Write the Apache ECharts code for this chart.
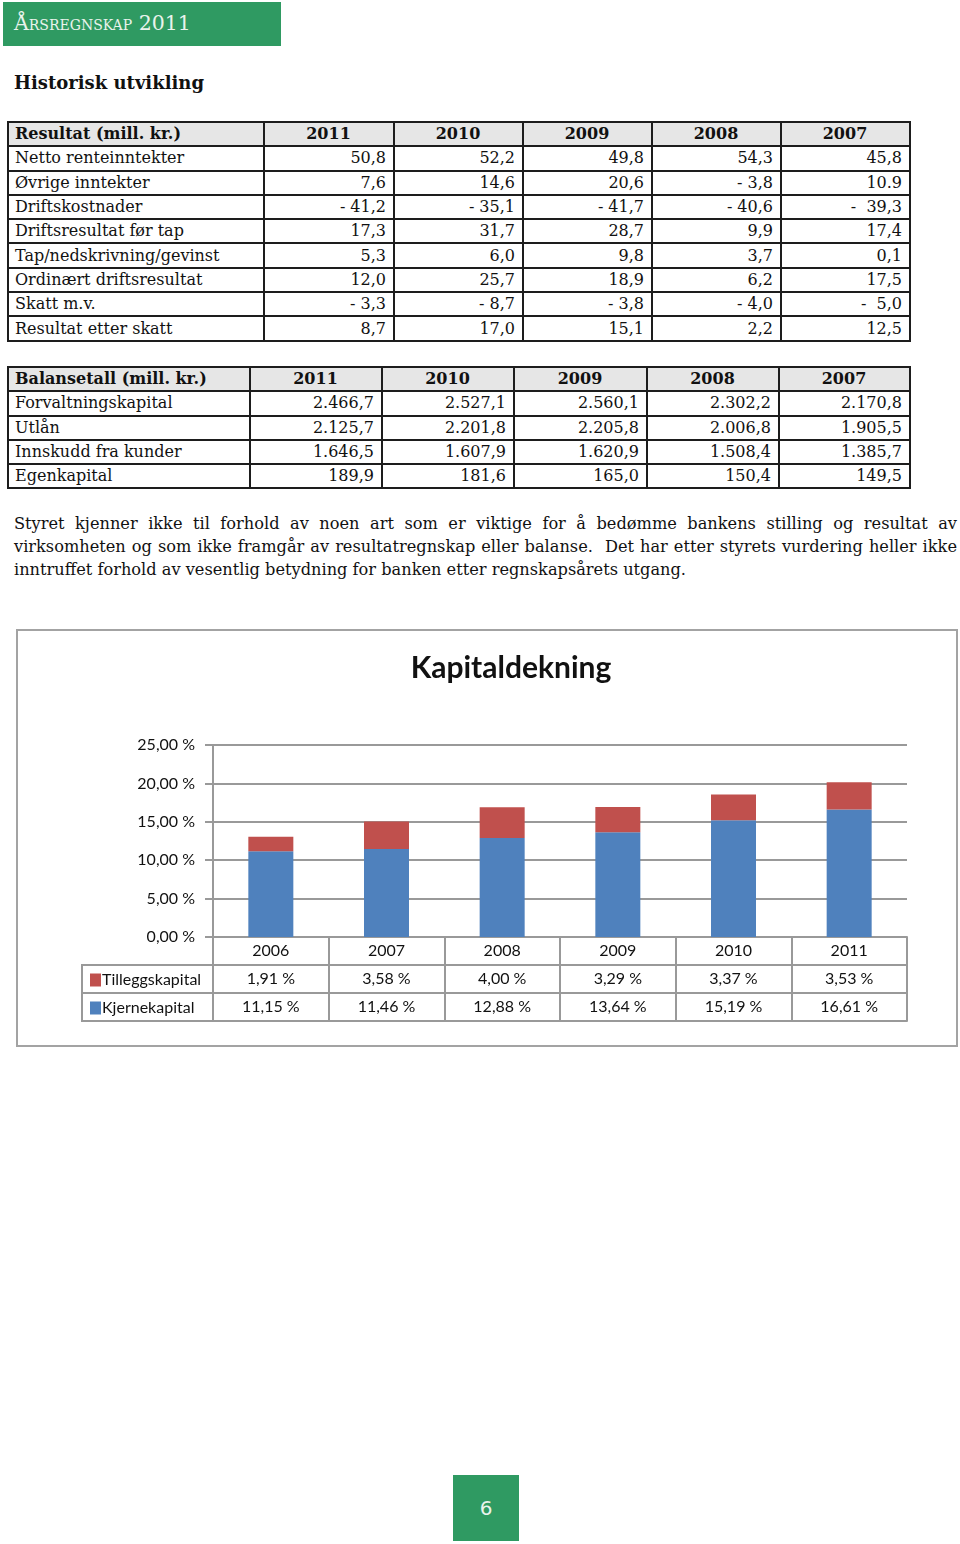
<!DOCTYPE html>
<html>
<head>
<meta charset="utf-8">
<script src="https://cdn.jsdelivr.net/npm/echarts@6.0.0/dist/echarts.min.js"></script>
<style>
  body { margin: 0; background: #fff; }
  #page { position: relative; width: 960px; height: 1544px; font-family: "DejaVu Serif", serif; color: #111; }
  .band { position: absolute; left: 3px; top: 2px; width: 278px; height: 44px; background: #2f9a62; }
  .band span { position: absolute; left: 11px; top: 9px; font-size: 20.5px; color: #e9f3ec; font-variant: small-caps; white-space: nowrap; }
  h1 { position: absolute; left: 14px; top: 70px; margin: 0; font-size: 18px; line-height: 26px; font-weight: bold; }
  table { position: absolute; left: 7px; width: 902px; border-collapse: collapse; table-layout: fixed; font-size: 16px; }
  th, td { border: 2px solid #1d1d1d; padding: 0 7px 0 6px; height: 22.3px; line-height: 20px; white-space: pre; overflow: hidden; }
  th { background: #e6e6e6; font-weight: bold; text-align: center; }
  th:first-child { text-align: left; }
  td { text-align: right; }
  td:first-child { text-align: left; }
  .para { position: absolute; left: 14px; top: 512px; width: 943px; font-size: 16.2px; line-height: 23px; }
  .para div { white-space: nowrap; }
  .para .j { text-align: justify; text-align-last: justify; white-space: normal; }
  #box { position: absolute; left: 16px; top: 629px; width: 942px; height: 418px; border: 2px solid #a3a3a3; box-sizing: border-box; }
  #chart { width: 938px; height: 414px; }
  .pageno { position: absolute; left: 453px; top: 1475px; width: 66px; height: 66px; background: #2f9a62; color: #e9f3ec; font-family: "DejaVu Sans", sans-serif; font-size: 20px; line-height: 66px; text-align: center; }
</style>
</head>
<body>
<div id="page">
  <div class="band"><span>Årsregnskap 2011</span></div>
  <h1>Historisk utvikling</h1>
  <table id="resultat" style="top:121px"></table>
  <table id="balanse" style="top:366px"></table>
  <div class="para">
    <div class="j">Styret kjenner ikke til forhold av noen art som er viktige for å bedømme bankens stilling og resultat av</div>
    <div class="j">virksomheten og som ikke framgår av resultatregnskap eller balanse.&nbsp; Det har etter styrets vurdering heller ikke</div>
    <div>inntruffet forhold av vesentlig betydning for banken etter regnskapsårets utgang.</div>
  </div>
  <div id="box"><div id="chart"></div></div>
  <div class="pageno">6</div>
</div>
<script>
// tabell 1: resultat
const resultatYears = ["2011", "2010", "2009", "2008", "2007"];
const resultatLabels = ["Netto renteinntekter", "Øvrige inntekter", "Driftskostnader", "Driftsresultat før tap",
  "Tap/nedskrivning/gevinst", "Ordinært driftsresultat", "Skatt m.v.", "Resultat etter skatt"];
const nettoRente = ["50,8", "52,2", "49,8", "54,3", "45,8"];
const ovrigeInntekter = ["7,6", "14,6", "20,6", "- 3,8", "10.9"];
const driftskostnader = ["- 41,2", "- 35,1", "- 41,7", "- 40,6", "-  39,3"];
const driftsresultat = ["17,3", "31,7", "28,7", "9,9", "17,4"];
const tapGevinst = ["5,3", "6,0", "9,8", "3,7", "0,1"];
const ordinaert = ["12,0", "25,7", "18,9", "6,2", "17,5"];
const skatt = ["- 3,3", "- 8,7", "- 3,8", "- 4,0", "-  5,0"];
const resultatEtterSkatt = ["8,7", "17,0", "15,1", "2,2", "12,5"];

// tabell 2: balanse
const balanseLabels = ["Forvaltningskapital", "Utlån", "Innskudd fra kunder", "Egenkapital"];
const forvaltning = ["2.466,7", "2.527,1", "2.560,1", "2.302,2", "2.170,8"];
const utlan = ["2.125,7", "2.201,8", "2.205,8", "2.006,8", "1.905,5"];
const innskudd = ["1.646,5", "1.607,9", "1.620,9", "1.508,4", "1.385,7"];
const egenkapital = ["189,9", "181,6", "165,0", "150,4", "149,5"];

// kapitaldekning
const years = ["2006", "2007", "2008", "2009", "2010", "2011"];
const tilleggskapital = [1.91, 3.58, 4.00, 3.29, 3.37, 3.53];
const kjernekapital = [11.15, 11.46, 12.88, 13.64, 15.19, 16.61];

function buildTable(id, title, widths, labels, rows) {
  const t = document.getElementById(id);
  let html = "<colgroup>" + widths.map((w) => `<col style="width:${w}px">`).join("") + "</colgroup>";
  html += "<tr><th>" + title + "</th>" + resultatYears.map((y) => `<th>${y}</th>`).join("") + "</tr>";
  labels.forEach((l, i) => {
    html += "<tr><td>" + l + "</td>" + rows[i].map((v) => `<td>${v}</td>`).join("") + "</tr>";
  });
  t.innerHTML = html;
}

buildTable("resultat", "Resultat (mill. kr.)", [256, 130, 129, 129, 129, 129], resultatLabels,
  [nettoRente, ovrigeInntekter, driftskostnader, driftsresultat, tapGevinst, ordinaert, skatt, resultatEtterSkatt]);
buildTable("balanse", "Balansetall (mill. kr.)", [242, 132, 132, 133, 132, 131], balanseLabels,
  [forvaltning, utlan, innskudd, egenkapital]);

const pct = (v) => v.toFixed(2).replace(".", ",") + " %";
const gray = "#999999";
const txt = "#111";

const myChart = echarts.init(document.getElementById("chart"));

const tableAxis = (offset, values) => ({
  type: "category",
  position: "bottom",
  offset: offset,
  data: years,
  axisLine: { show: true, onZero: false, lineStyle: { color: gray, width: 2 } },
  axisTick: { show: values !== null, length: 28, interval: 0, lineStyle: { color: gray, width: 2 } },
  axisLabel: {
    show: values !== null,
    interval: 0,
    margin: 6,
    fontFamily: "Lato",
    fontSize: 16,
    color: txt,
    formatter: (v, i) => (values === years ? v : values ? pct(values[i]) : ""),
  },
});

const option = {
  animation: false,
  title: {
    text: "Kapitaldekning",
    left: 493,
    top: 22,
    padding: 0,
    textAlign: "center",
    textStyle: { fontFamily: "Lato", fontWeight: "bold", fontSize: 30, color: txt },
  },
  legend: {
    orient: "vertical",
    left: 72,
    top: 341,
    padding: 0,
    itemWidth: 11,
    itemHeight: 13,
    itemGap: 12,
    icon: "rect",
    data: ["Tilleggskapital", "Kjernekapital"],
    textStyle: { fontFamily: "Lato", fontSize: 16, lineHeight: 16, color: txt, padding: [0, 0, 0, -4] },
  },
  grid: { left: 195, right: 49, top: 114, bottom: 108, containLabel: false, outerBoundsMode: "none" },
  yAxis: {
    type: "value",
    min: 0,
    max: 25,
    interval: 5,
    axisLine: { show: true, lineStyle: { color: gray, width: 2 } },
    axisTick: { show: true, length: 8, lineStyle: { color: gray, width: 2 } },
    splitLine: { lineStyle: { color: gray, width: 2 } },
    axisLabel: { formatter: pct, margin: 18, fontFamily: "Lato", fontSize: 16, color: txt },
  },
  xAxis: [
    tableAxis(0, years),
    tableAxis(28, tilleggskapital),
    tableAxis(56, kjernekapital),
    tableAxis(84, null),
  ],
  series: [
    {
      name: "Kjernekapital",
      type: "bar",
      stack: "kap",
      xAxisIndex: 0,
      barWidth: 45,
      data: kjernekapital,
      itemStyle: { color: "#4f81bd" },
    },
    {
      name: "Tilleggskapital",
      type: "bar",
      stack: "kap",
      xAxisIndex: 0,
      barWidth: 45,
      data: tilleggskapital,
      itemStyle: { color: "#c0504d" },
    },
  ],
  // kantlinjer rundt forklaringscellene
  graphic: [
    { type: "polyline", shape: { points: [[195, 334], [64, 334], [64, 390], [195, 390]] }, style: { stroke: gray, lineWidth: 2, fill: null } },
    { type: "line", shape: { x1: 64, y1: 362, x2: 195, y2: 362 }, style: { stroke: gray, lineWidth: 2 } },
  ],
};

myChart.setOption(option);
</script>
</body>
</html>
